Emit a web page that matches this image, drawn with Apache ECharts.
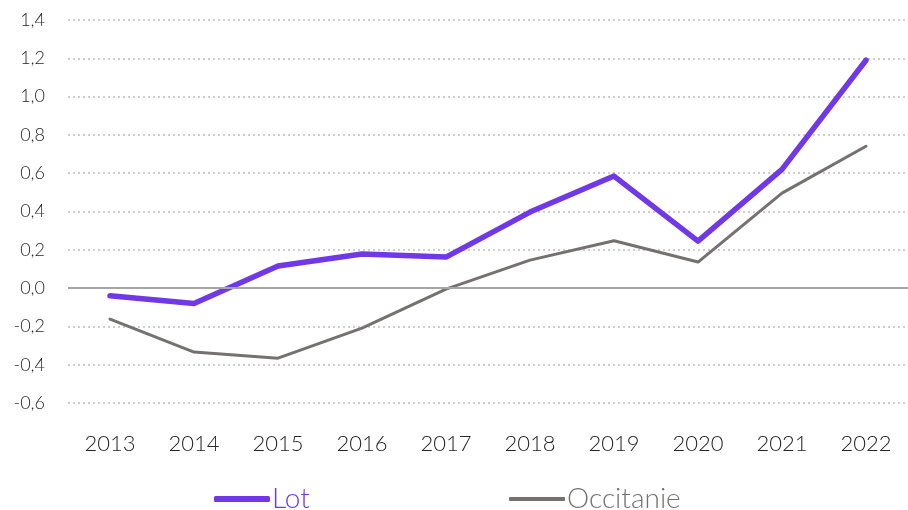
<!DOCTYPE html>
<html>
<head>
<meta charset="utf-8">
<script src="https://cdn.jsdelivr.net/npm/echarts@6/dist/echarts.min.js"></script>
<style>
  html, body { margin: 0; padding: 0; background: #fff; }
  #main { width: 908px; height: 510px; }
</style>
</head>
<body>
<div id="main"></div>
<script>
// données
var annees = ['2013', '2014', '2015', '2016', '2017', '2018', '2019', '2020', '2021', '2022'];
var lot = [-0.04, -0.08, 0.115, 0.178, 0.162, 0.397, 0.585, 0.245, 0.62, 1.19];
var occitanie = [-0.162, -0.334, -0.366, -0.209, -0.005, 0.146, 0.247, 0.136, 0.496, 0.741];

var chart = echarts.init(document.getElementById('main'));

var option = {
    animation: false,
    textStyle: { fontFamily: 'Lato', fontWeight: 300 },
    grid: {
        left: 68,
        right: 0,
        top: 20,
        bottom: 107,
        containLabel: false,
        outerBoundsMode: 'none'
    },
    legend: [
        {
            data: ['Lot'],
            left: 209,
            top: 480,
            icon: 'roundRect',
            itemWidth: 56,
            itemHeight: 6,
            itemGap: 3,
            textStyle: { color: '#7138e8', fontSize: 28, fontWeight: 300, padding: [0, 0, 0, -3] }
        },
        {
            data: ['Occitanie'],
            left: 504,
            top: 480,
            icon: 'roundRect',
            itemWidth: 56,
            itemHeight: 4,
            textStyle: { color: '#767171', fontSize: 28, fontWeight: 300, padding: [0, 0, 0, -3] }
        }
    ],
    xAxis: {
        type: 'category',
        data: annees,
        boundaryGap: true,
        axisTick: { show: false },
        axisLine: { show: false, onZero: false },
        axisLabel: {
            color: '#262626',
            fontSize: 22,
            fontWeight: 300,
            margin: 30
        }
    },
    yAxis: {
        type: 'value',
        min: -0.6,
        max: 1.4,
        interval: 0.2,
        axisLine: { show: false },
        axisTick: { show: false },
        axisLabel: {
            color: '#262626',
            fontSize: 18,
            fontWeight: 300,
            margin: 23,
            formatter: function (v) {
                return v.toFixed(1).replace('.', ',');
            }
        },
        splitLine: {
            lineStyle: { color: '#bfbfbf', type: [2, 3], width: 1.5 }
        }
    },
    series: [
        {
            name: 'Lot',
            type: 'line',
            data: lot,
            showSymbol: false,
            symbol: 'none',
            z: 3,
            itemStyle: { color: '#7138e8' },
            lineStyle: { color: '#7138e8', width: 5.5, cap: 'round', join: 'round' },
            markLine: {
                silent: true,
                symbol: 'none',
                label: { show: false },
                lineStyle: { color: '#a6a6a6', width: 2, type: 'solid' },
                data: [{ yAxis: 0 }]
            }
        },
        {
            name: 'Occitanie',
            type: 'line',
            data: occitanie,
            showSymbol: false,
            symbol: 'none',
            z: 2,
            itemStyle: { color: '#767171' },
            lineStyle: { color: '#767171', width: 3, cap: 'round', join: 'round' }
        }
    ]
};

chart.setOption(option);
</script>
</body>
</html>
